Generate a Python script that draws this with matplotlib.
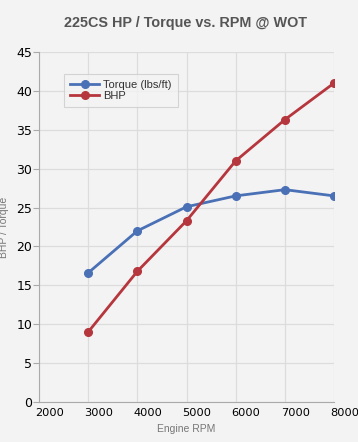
import matplotlib
matplotlib.use("Agg")
import matplotlib.pyplot as plt
import matplotlib.transforms as mtransforms

rpm = [3000, 4000, 5000, 6000, 7000, 8000]
torque = [16.6, 22.0, 25.1, 26.5, 27.3, 26.5]
bhp = [9.0, 16.8, 23.3, 31.0, 36.3, 41.0]
x_ticks = [2000, 3000, 4000, 5000, 6000, 7000, 8000]
y_ticks = [0, 5, 10, 15, 20, 25, 30, 35, 40, 45]

bg = "#f3f3f3"
fig = plt.figure(figsize=(3.58, 4.42), dpi=100, facecolor=bg)
ax = fig.add_axes([39/358, 1-402/442, (334-39)/358, (402-52)/442], facecolor=bg)

blue = "#4a70b6"
red = "#b6363d"
ax.plot(rpm, torque, color=blue, lw=2.0, marker="o", ms=5.5, label="Torque (lbs/ft)", zorder=3)
ax.plot(rpm, bhp, color=red, lw=2.0, marker="o", ms=5.5, label="BHP", zorder=3)

ax.set_xlim(2000, 8000)
ax.set_ylim(0, 45)
ax.set_xticks(x_ticks)
ax.set_yticks(y_ticks)
ax.grid(True, color="#dcdcdc", lw=0.9)
ax.set_axisbelow(True)
for s in ["top", "right"]:
    ax.spines[s].set_visible(False)
ax.spines["left"].set_color("#aaaaaa")
ax.spines["bottom"].set_color("#aaaaaa")
ax.tick_params(axis="y", length=4, color="#aaaaaa", labelsize=9, pad=1)
ax.tick_params(axis="x", length=0, labelsize=8.2, pad=4)
for lbl in ax.get_xticklabels():
    lbl.set_horizontalalignment("left")
    lbl.set_transform(lbl.get_transform() + mtransforms.ScaledTranslation(-4/100, 0, fig.dpi_scale_trans))

ax.set_xlabel("Engine RPM", fontsize=7.5, color="#777777", family="Liberation Sans", labelpad=5)
ax.yaxis.set_label_coords(-(39-9.5)/295, 0.5)
ax.set_ylabel("BHP / Torque", fontsize=7.5, color="#777777", family="Liberation Sans")
fig.text(186/358, 1-23/442, "225CS HP / Torque vs. RPM @ WOT", ha="center", va="center",
         fontsize=10.4, fontweight="bold", color="#555555", family="Liberation Sans")

leg = ax.legend(loc="upper left", bbox_to_anchor=((64-39)/295, (402-74)/350),
                frameon=True, fancybox=False, handlelength=2.6, borderpad=0.55,
                handletextpad=0.4, borderaxespad=0,
                labelspacing=0.1, prop={"family": "Liberation Sans", "size": 8})
leg.get_frame().set_facecolor(bg)
leg.get_frame().set_edgecolor("#cccccc")
leg.get_frame().set_linewidth(0.8)
for t in leg.get_texts():
    t.set_color("#333333")

fig.savefig("out.png", dpi=100, facecolor=bg)
